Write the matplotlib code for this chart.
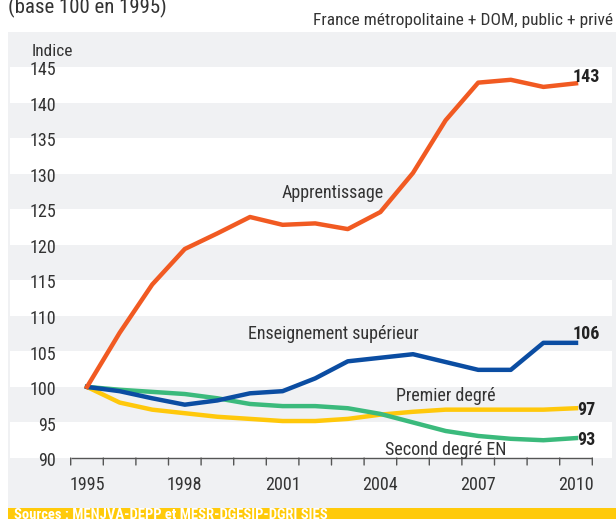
import matplotlib
matplotlib.use("Agg")
import matplotlib.pyplot as plt
from matplotlib import font_manager
from matplotlib.transforms import blended_transform_factory

names = {f.name for f in font_manager.fontManager.ttflist}
cond = None
for cand in ["Liberation Sans Narrow", "DejaVu Sans Condensed", "Roboto Condensed", "Open Sans Condensed"]:
    if cand in names:
        cond = cand
        break
stretch = "normal"
if cond is None:
    cond = "DejaVu Sans"
    stretch = "condensed"
plt.rcParams['font.family'] = [cond, 'DejaVu Sans']
plt.rcParams['font.stretch'] = stretch

years = list(range(1995, 2011))
apprentissage = [100, 107.6, 114.4, 119.4, 121.6, 123.9, 122.8, 123.0, 122.2, 124.6, 130.1, 137.5, 142.8, 143.2, 142.2, 142.7]
superieur = [100, 99.4, 98.4, 97.5, 98.1, 99.1, 99.4, 101.2, 103.6, 104.1, 104.6, 103.5, 102.4, 102.4, 106.2, 106.2]
second_degre = [100, 99.6, 99.3, 99.0, 98.4, 97.6, 97.3, 97.3, 97.0, 96.2, 95.0, 93.8, 93.1, 92.7, 92.5, 92.8]
premier_degre = [100, 97.8, 96.8, 96.3, 95.8, 95.5, 95.2, 95.2, 95.5, 96.1, 96.5, 96.8, 96.8, 96.8, 96.8, 97.0]
end_labels = ["143", "106", "97", "93"]
xtick_labels = ["1995", "1998", "2001", "2004", "2007", "2010"]
ytick_values = [90, 95, 100, 105, 110, 115, 120, 125, 130, 135, 140, 145]

ORANGE = "#F15A22"
BLUE = "#0B4DA2"
GREEN = "#3BBA7C"
YELLOW = "#FFC80B"
PANEL = "#F0F1F3"
TXT = "#333333"

W, H = 616, 519
fig = plt.figure(figsize=(W / 100, H / 100), dpi=100)
fig.patch.set_facecolor("white")

def fx(px):
    return px / W

def fy(py):
    return 1 - py / H

# gray panel
fig.patches.append(plt.Rectangle((fx(8), 0), fx(W - 8), fy(32), transform=fig.transFigure,
                                 facecolor=PANEL, edgecolor="none", zorder=-2))
# yellow source bar
fig.patches.append(plt.Rectangle((fx(8), 0), fx(W - 8), fy(508), transform=fig.transFigure,
                                 facecolor="#FFCA0A", edgecolor="none", zorder=-1))
fig.text(fx(14), fy(519) - 0.006, "Sources : MENJVA-DEPP et MESR-DGESIP-DGRI SIES",
         color="white", fontsize=10.5, fontweight="bold", ha="left", va="bottom")

# titles
fig.text(fx(8), fy(13), "(base 100 en 1995)", fontsize=15, color=TXT, ha="left", va="baseline")
fig.text(fx(613), fy(25), "France métropolitaine + DOM, public + privé", fontsize=12.5,
         color=TXT, ha="right", va="baseline")
fig.text(fx(32), fy(56), "Indice", fontsize=12.5, color=TXT, ha="left", va="baseline")

# axes: x 10..612 px, y 67 (145) .. 458 (90)
ax = fig.add_axes([fx(10), fy(458), fx(612 - 10), (458 - 67) / H])
ax.patch.set_alpha(0)
ax.set_ylim(90, 145)
x_per_px = 1 / 32.6
x_left = 1995 - (87 - 10) * x_per_px
x_right = 1995 + (612 - 87) * x_per_px
ax.set_xlim(x_left, x_right)
for s in ax.spines.values():
    s.set_visible(False)
ax.set_xticks([])
ax.set_yticks([])

# white bands
for lo in range(90, 145, 10):
    ax.axhspan(lo, lo + 5, color="white", zorder=0, lw=0)

# y tick labels
ytr = blended_transform_factory(ax.transAxes, ax.transData)
for v in ytick_values:
    ax.text((56 - 10) / 602, v - 0.45, str(v), transform=ytr, ha="right", va="center",
            fontsize=13, color=TXT, clip_on=False)

# x axis line and ticks
ax.plot([1994.5, 2010.5], [90, 90], color="#555555", lw=1, clip_on=False, zorder=3,
        solid_capstyle="butt")
for b in [1994.5 + i for i in range(17)]:
    ax.annotate("", xy=(b, 90), xytext=(0, -7), textcoords="offset pixels",
                arrowprops=dict(arrowstyle="-", color="#555555", lw=1,
                                shrinkA=0, shrinkB=0), annotation_clip=False)
for lab in xtick_labels:
    ax.annotate(lab, xy=(int(lab), 90), xytext=(0, -27), textcoords="offset pixels",
                ha="center", va="center", fontsize=13, color=TXT, annotation_clip=False)

# series
lw = 3.2
ax.plot(years, premier_degre, color=YELLOW, lw=lw, zorder=4)
ax.plot(years, second_degre, color=GREEN, lw=lw, zorder=5)
ax.plot(years, superieur, color=BLUE, lw=lw, zorder=6)
ax.plot(years, apprentissage, color=ORANGE, lw=lw, zorder=7)

# series labels
ax.text(2002.55, 127.3, "Apprentissage", ha="center", va="center", fontsize=13, color=TXT)
ax.text(2002.55, 107.5, "Enseignement supérieur", ha="center", va="center", fontsize=13, color=TXT)
ax.text(2006.0, 98.7, "Premier degré", ha="center", va="center", fontsize=13, color=TXT)
ax.text(2006.0, 91.1, "Second degré EN", ha="center", va="center", fontsize=13, color=TXT)

# end labels
end_pos = [(2009.9, 143.6), (2009.9, 107.4), (2010.05, 96.8), (2010.05, 92.6)]
for lab, (xx, yy) in zip(end_labels, end_pos):
    ax.text(xx, yy, lab, ha="left", va="center", fontsize=13, fontweight="bold",
            color="#222222", zorder=8)

fig.savefig("out.png", dpi=100)
